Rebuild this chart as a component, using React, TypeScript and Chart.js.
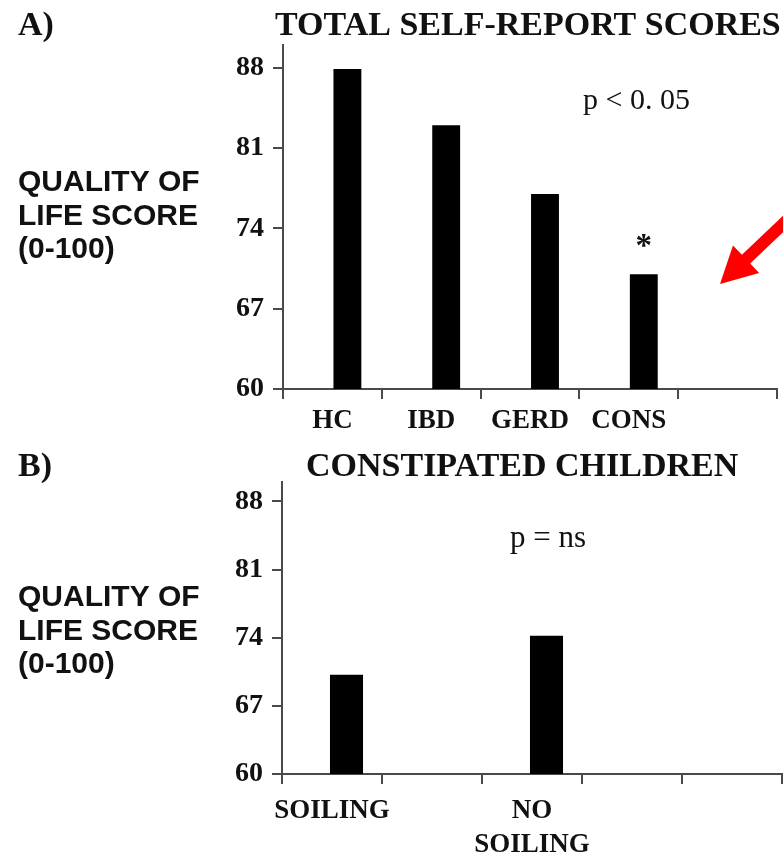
import React, { useEffect, useRef } from "react";
import { Chart, registerables } from "chart.js";

Chart.register(...registerables);

// ---- data ----
const categoriesA: (string | string[])[] = ["HC", "IBD", "GERD", "CONS", ""];
const scoresA: (number | null)[] = [87.9, 83.0, 77.0, 70.0, null];
const categoriesB: (string | string[])[] = ["SOILING", "", ["NO", "SOILING"], "", ""];
const scoresB: (number | null)[] = [70.2, null, 74.2, null, null];
const yTickValues = [60, 67, 74, 81, 88];
const yMin = 60;
const yMax = 90;
const titleA = "TOTAL SELF-REPORT SCORES";
const titleB = "CONSTIPATED CHILDREN";
const panelA = "A)";
const panelB = "B)";
const yAxisLabelLines = ["QUALITY OF", "LIFE SCORE", "(0-100)"];
const pTextA = "p < 0. 05";
const pTextB = "p = ns";
const starText = "*";
const starIndex = 3;

const SERIF = '"Liberation Serif", "Times New Roman", serif';
const SANS = '"Liberation Sans", Arial, sans-serif';
const TEXT = "#111";
const AXIS = "#4a4a4a";

type PanelSpec = {
  width: number;
  height: number;
  labels: (string | string[])[];
  values: (number | null)[];
  padTop: number;
  padRight: number;
  yAxisWidth: number;
  xAxisHeight: number;
  catPct: number;
  barPct: number;
  xLabelPad: number;
  draw: (chart: any) => void;
};

function buildConfig(p: PanelSpec): any {
  const annot = {
    id: "annot",
    afterDraw(chart: any) {
      const ctx = chart.ctx;
      ctx.save();
      p.draw(chart);
      ctx.restore();
    },
  };
  return {
    type: "bar",
    data: {
      labels: p.labels,
      datasets: [
        { label: "spacer", data: p.values.map(() => null), backgroundColor: "rgba(0,0,0,0)" },
        {
          label: "score",
          data: p.values,
          backgroundColor: "#000",
          borderWidth: 0,
          categoryPercentage: p.catPct,
          barPercentage: p.barPct,
        },
      ],
    },
    options: {
      responsive: false,
      animation: false,
      devicePixelRatio: 1,
      datasets: { bar: { categoryPercentage: p.catPct, barPercentage: p.barPct } },
      layout: { padding: { top: p.padTop, right: p.padRight, left: 0, bottom: 0 } },
      plugins: { legend: { display: false }, tooltip: { enabled: false }, title: { display: false } },
      scales: {
        x: {
          type: "category",
          offset: true,
          grid: {
            offset: true,
            drawOnChartArea: false,
            drawTicks: true,
            tickLength: 10,
            color: AXIS,
            lineWidth: 2,
          },
          border: { display: true, color: AXIS, width: 2 },
          ticks: {
            autoSkip: false,
            maxRotation: 0,
            minRotation: 0,
            padding: p.xLabelPad,
            color: TEXT,
            font: { family: SERIF, size: 27, weight: "bold", lineHeight: 1.26 },
          },
          afterFit(scale: any) {
            scale.height = p.xAxisHeight;
          },
        },
        y: {
          min: yMin,
          max: yMax,
          grid: {
            drawOnChartArea: false,
            drawTicks: true,
            tickLength: 10,
            color: AXIS,
            lineWidth: 2,
          },
          border: { display: true, color: AXIS, width: 2 },
          ticks: {
            padding: 9,
            color: TEXT,
            font: { family: SERIF, size: 28, weight: "bold" },
          },
          afterBuildTicks(scale: any) {
            scale.ticks = yTickValues.map((v) => ({ value: v }));
          },
          afterFit(scale: any) {
            scale.width = p.yAxisWidth;
          },
        },
      },
    },
    plugins: [annot],
  };
}

function drawSideLabel(ctx: CanvasRenderingContext2D, baselines: number[]) {
  ctx.fillStyle = TEXT;
  ctx.font = `bold 30px ${SANS}`;
  ctx.textAlign = "left";
  ctx.textBaseline = "alphabetic";
  yAxisLabelLines.forEach((line, i) => ctx.fillText(line, 18, baselines[i]));
}

function drawArrow(ctx: CanvasRenderingContext2D, tipX: number, tipY: number) {
  const ux = 0.724;
  const uy = -0.69;
  const nx = 0.69;
  const ny = 0.724;
  const headLen = 36;
  const headHalf = 19;
  const shaftHalf = 6;
  const shaftLen = 90;
  const bx = tipX + ux * headLen;
  const by = tipY + uy * headLen;
  ctx.fillStyle = "#ff0000";
  ctx.beginPath();
  ctx.moveTo(tipX, tipY);
  ctx.lineTo(bx + nx * headHalf, by + ny * headHalf);
  ctx.lineTo(bx + nx * shaftHalf, by + ny * shaftHalf);
  ctx.lineTo(bx + nx * shaftHalf + ux * shaftLen, by + ny * shaftHalf + uy * shaftLen);
  ctx.lineTo(bx - nx * shaftHalf + ux * shaftLen, by - ny * shaftHalf + uy * shaftLen);
  ctx.lineTo(bx - nx * shaftHalf, by - ny * shaftHalf);
  ctx.lineTo(bx - nx * headHalf, by - ny * headHalf);
  ctx.closePath();
  ctx.fill();
}

const specA: PanelSpec = {
  width: 783,
  height: 440,
  labels: categoriesA,
  values: scoresA,
  padTop: 45,
  padRight: 6,
  yAxisWidth: 283,
  xAxisHeight: 51,
  catPct: 0.607,
  barPct: 0.93,
  xLabelPad: 5,
  draw(chart: any) {
    const ctx: CanvasRenderingContext2D = chart.ctx;
    ctx.fillStyle = TEXT;
    ctx.textBaseline = "alphabetic";
    ctx.textAlign = "left";
    ctx.font = `bold 34px ${SERIF}`;
    ctx.fillText(panelA, 18, 35);
    ctx.fillText(titleA, 275, 35);
    drawSideLabel(ctx, [191, 225, 258]);
    ctx.fillStyle = TEXT;
    ctx.font = `30px ${SERIF}`;
    ctx.textAlign = "left";
    ctx.fillText(pTextA, 583, 109);
    const bar = chart.getDatasetMeta(1).data[starIndex];
    if (bar) {
      ctx.font = `bold 33px ${SERIF}`;
      ctx.textAlign = "center";
      ctx.fillText(starText, bar.x, bar.y - 18);
    }
    drawArrow(ctx, 720, 284);
  },
};

const specB: PanelSpec = {
  width: 783,
  height: 417,
  labels: categoriesB,
  values: scoresB,
  padTop: 42,
  padRight: 1,
  yAxisWidth: 282,
  xAxisHeight: 83,
  catPct: 0.58,
  barPct: 1.14,
  xLabelPad: 10,
  draw(chart: any) {
    const ctx: CanvasRenderingContext2D = chart.ctx;
    ctx.fillStyle = TEXT;
    ctx.textBaseline = "alphabetic";
    ctx.textAlign = "left";
    ctx.font = `bold 34px ${SERIF}`;
    ctx.fillText(panelB, 18, 36);
    ctx.fillText(titleB, 306, 36);
    drawSideLabel(ctx, [166, 200, 233]);
    ctx.fillStyle = TEXT;
    ctx.font = `31px ${SERIF}`;
    ctx.textAlign = "left";
    ctx.fillText(pTextB, 510, 107);
  },
};

function Panel({ spec }: { spec: PanelSpec }) {
  const ref = useRef<HTMLCanvasElement | null>(null);
  useEffect(() => {
    if (!ref.current) return;
    const chart = new Chart(ref.current, buildConfig(spec));
    return () => chart.destroy();
  }, [spec]);
  return (
    <canvas
      ref={ref}
      width={spec.width}
      height={spec.height}
      style={{ display: "block", width: spec.width, height: spec.height }}
    />
  );
}

export default function App() {
  return (
    <div
      style={{
        position: "absolute",
        left: 0,
        top: 0,
        width: 783,
        height: 857,
        overflow: "hidden",
        background: "#fff",
      }}
    >
      <Panel spec={specA} />
      <Panel spec={specB} />
    </div>
  );
}
